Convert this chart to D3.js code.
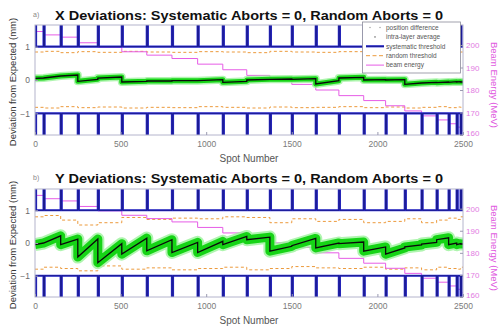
<!DOCTYPE html>
<html><head><meta charset="utf-8">
<script src="https://d3js.org/d3.v7.min.js"></script>
<style>
html,body{margin:0;padding:0;background:#fff;}
svg{display:block;font-family:"Liberation Sans",Arial,sans-serif;}
</style></head>
<body><svg id="c" width="499" height="332"></svg>
<script>
// ---------------- data ----------------
const layerStart = [0, 50, 150, 250, 367, 507, 653, 800, 950, 1097, 1237, 1372, 1500, 1640, 1775, 1920, 2048, 2160, 2258, 2346, 2416, 2463, 2486];
const spotEnd = 2500;
const beamEnergy = [206, 204.5, 203.5, 201, 199, 197, 195.5, 194, 191.5, 189, 186.5, 184.5, 182.5, 180, 177.5, 175.3, 173, 170.7, 168.5, 166.7, 165, 163.5, 162];

// intra-layer average at layer start / layer end (mm)
const xAvgStart = [0.05, 0.06, 0.12, -0.04, 0.06, -0.06, -0.03, -0.02, -0.02, -0.07, 0.00, 0.02, 0.02, -0.12, 0.06, 0.00, 0.00, -0.13, -0.09, -0.08, -0.07, -0.06, -0.06];
const xAvgEnd   = [0.06, 0.12, 0.15, 0.02, 0.09, -0.04, -0.03, -0.02, 0.01, -0.04, 0.02, 0.03, 0.04, -0.02, 0.08, 0.01, 0.01, -0.09, -0.07, -0.06, -0.05, -0.05, -0.06];
const yAvgStart = [-0.05, 0.00, -0.05, -0.43, -0.60, -0.34, -0.24, -0.29, -0.29, -0.05, 0.10, -0.25, -0.08, -0.15, -0.02, -0.25, -0.34, -0.12, -0.03, 0.10, -0.05, -0.05, -0.03];
const yAvgEnd   = [0.00, 0.22, 0.12, 0.12, -0.02, 0.15, 0.10, 0.02, 0.05, 0.20, 0.18, -0.10, 0.14, 0.00, 0.03, -0.12, -0.15, -0.06, 0.02, 0.16, 0.00, -0.02, -0.03];

// random thresholds per layer (mm)
const xRandUpper = [0.84, 0.86, 0.82, 0.85, 0.83, 0.86, 0.84, 0.83, 0.85, 0.84, 0.82, 0.86, 0.84, 0.83, 0.85, 0.82, 0.84, 0.86, 0.83, 0.84, 0.85, 0.83, 0.84];
const xRandLower = [-0.82, -0.84, -0.80, -0.83, -0.81, -0.84, -0.82, -0.83, -0.80, -0.82, -0.84, -0.81, -0.83, -0.82, -0.80, -0.83, -0.81, -0.84, -0.82, -0.80, -0.83, -0.81, -0.82];
const yRandUpper = [0.80, 0.84, 0.70, 0.55, 0.62, 0.78, 0.72, 0.76, 0.74, 0.80, 0.78, 0.62, 0.74, 0.66, 0.72, 0.62, 0.66, 0.74, 0.62, 0.70, 0.76, 0.72, 0.80];
const yRandLower = [-0.80, -0.74, -0.78, -0.85, -0.70, -0.80, -0.76, -0.82, -0.78, -0.74, -0.82, -0.78, -0.72, -0.76, -0.78, -0.74, -0.80, -0.76, -0.82, -0.74, -0.78, -0.80, -0.74];

const sysThreshold = 1;       // mm
const sysSpikeValue = 3;      // loose threshold at start of each layer (off-scale)
const sysSpikeSpots = 6;      // spots with loose threshold at layer start

const xTicks = [0, 500, 1000, 1500, 2000, 2500];
const leftTicks = [-1, 0, 1];
const rightTicks = [160, 170, 180, 190, 200];
const legendLabels = ["position difference", "intra-layer average", "systematic threshold", "random threshold", "beam energy"];
const panelTitles = ["X Deviations: Systematic Aborts = 0, Random Aborts = 0", "Y Deviations: Systematic Aborts = 0, Random Aborts = 0"];
const panelTags = ["a)", "b)"];

// ---------------- drawing ----------------
const svg = d3.select("#c");
const L = 35, R = 463;
const x = d3.scaleLinear([0, spotEnd], [L, R]);

const panels = [
  {top: 25, bottom: 135, avgS: xAvgStart, avgE: xAvgEnd, rU: xRandUpper, rL: xRandLower, band: 5, halo: 3, titleY: 20, legend: true},
  {top: 189, bottom: 297, avgS: yAvgStart, avgE: yAvgEnd, rU: yRandUpper, rL: yRandLower, band: 9, halo: 4, titleY: 183, legend: false}
];

function layerEnd(i){ return i + 1 < layerStart.length ? layerStart[i + 1] : spotEnd; }

panels.forEach((p, pi) => {
  const y = d3.scaleLinear([-1.65, 1.65], [p.bottom, p.top]);
  const yR = d3.scaleLinear([160, 208.9], [p.bottom, p.top]);
  const g = svg.append("g");
  const clipId = "clip" + pi;
  svg.append("clipPath").attr("id", clipId).append("rect")
    .attr("x", L).attr("y", p.top).attr("width", R - L).attr("height", p.bottom - p.top);
  const plot = g.append("g").attr("clip-path", `url(#${clipId})`);

  // random thresholds (dashed)
  const stepPts = arr => { const pts = layerStart.map((s, i) => [s, arr[i]]); pts.push([spotEnd, arr[arr.length - 1]]); return pts; };
  const lineStep = d3.line().x(d => x(d[0])).y(d => y(d[1])).curve(d3.curveStepAfter);
  [p.rU, p.rL].forEach(arr => {
    plot.append("path").attr("d", lineStep(stepPts(arr))).attr("fill", "none")
      .attr("stroke", "#ec9a3c").attr("stroke-width", 1).attr("stroke-dasharray", "3,2.5");
  });

  // beam energy (magenta step)
  const ePts = layerStart.map((s, i) => [s, beamEnergy[i]]); ePts.push([spotEnd, beamEnergy[beamEnergy.length - 1]]);
  plot.append("path").attr("d", d3.line().x(d => x(d[0])).y(d => yR(d[1])).curve(d3.curveStepAfter)(ePts))
    .attr("fill", "none").attr("stroke", "#e65ce6").attr("stroke-width", 1);

  // systematic threshold with spikes at each layer start
  [1, -1].forEach(sgn => {
    const pts = [];
    layerStart.forEach((s, i) => {
      pts.push([s, sgn * sysSpikeValue]);
      pts.push([Math.min(s + sysSpikeSpots, layerEnd(i)), sgn * sysThreshold]);
    });
    pts.push([spotEnd, sgn * sysThreshold]);
    plot.append("path").attr("d", lineStep(pts)).attr("fill", "none")
      .attr("stroke", "#2d2dd6").attr("stroke-width", 2.2);
    plot.append("path").attr("d", lineStep(pts)).attr("fill", "none")
      .attr("stroke", "#15157a").attr("stroke-width", 0.8);
  });

  // position difference band + intra-layer average
  const aPts = [];
  layerStart.forEach((s, i) => { aPts.push([s, p.avgS[i]]); aPts.push([layerEnd(i), p.avgE[i]]); });
  const lineA = d3.line().x(d => x(d[0])).y(d => y(d[1]));
  plot.append("path").attr("d", lineA(aPts)).attr("fill", "none")
    .attr("stroke", "#9bf29b").attr("stroke-width", p.band + p.halo).attr("stroke-linejoin", "round").attr("opacity", 0.8);
  plot.append("path").attr("d", lineA(aPts)).attr("fill", "none")
    .attr("stroke", "#16d416").attr("stroke-width", p.band).attr("stroke-linejoin", "round");
  plot.append("path").attr("d", lineA(aPts)).attr("fill", "none")
    .attr("stroke", "#0a0a0a").attr("stroke-width", 1.3);

  // axes box
  g.append("rect").attr("x", L).attr("y", p.top).attr("width", R - L).attr("height", p.bottom - p.top)
    .attr("fill", "none").attr("stroke", "#b4b4cc").attr("stroke-width", 1);

  const styleAxis = (sel, col, fs) => {
    sel.select(".domain").remove();
    sel.selectAll(".tick line").attr("stroke", "#9a9ab0");
    sel.selectAll(".tick text").attr("fill", col).style("font-size", fs).attr("font-family", "Liberation Sans, Arial, sans-serif");
  };
  g.append("g").attr("transform", `translate(0,${p.bottom})`)
    .call(d3.axisBottom(x).tickValues(xTicks).tickSizeInner(-3).tickSizeOuter(0).tickPadding(6).tickFormat(d3.format("d")))
    .call(s => styleAxis(s, "#7a7a7a", "8.5px"));
  g.append("g").attr("transform", `translate(${L},0)`)
    .call(d3.axisLeft(y).tickValues(leftTicks).tickSizeInner(-3).tickSizeOuter(0).tickPadding(5).tickFormat(d3.format("d")))
    .call(s => styleAxis(s, "#6a6a6a", "8.5px"));
  g.append("g").attr("transform", `translate(${R},0)`)
    .call(d3.axisRight(yR).tickValues(rightTicks).tickSizeInner(-3).tickSizeOuter(0).tickPadding(3).tickFormat(d3.format("d")))
    .call(s => styleAxis(s, "#e27be2", "8px"))
    .call(s => s.selectAll(".tick text").attr("dy", d => d === 160 ? "0.1em" : "0.32em"));

  // titles and labels
  g.append("text").attr("x", 33).attr("y", p.titleY - 3).text(panelTags[pi])
    .attr("fill", "#888").style("font-size", "7px");
  g.append("text").attr("x", 55).attr("y", p.titleY).text(panelTitles[pi])
    .attr("fill", "#111").style("font-size", "13px").style("font-weight", "bold")
    .attr("textLength", 388).attr("lengthAdjust", "spacingAndGlyphs");
  g.append("text").attr("x", (L + R) / 2).attr("y", p.bottom + 27).attr("text-anchor", "middle")
    .text("Spot Number").attr("fill", "#555").style("font-size", "10px");
  const midY = (p.top + p.bottom) / 2;
  g.append("text").attr("transform", `translate(16,${midY + 2}) rotate(-90)`).attr("text-anchor", "middle")
    .text("Deviation from Expected (mm)").attr("fill", "#333").style("font-size", "9.5px");
  g.append("text").attr("transform", `translate(491,${midY + 5}) rotate(90)`).attr("text-anchor", "middle")
    .text("Beam Energy (MeV)").attr("fill", "#e05ae0").style("font-size", "9.5px");

  if (p.legend) {
    const lg = g.append("g");
    lg.append("rect").attr("x", 362.5).attr("y", 22).attr("width", 98).attr("height", 51)
      .attr("fill", "#fff").attr("stroke", "#8a8a9a").attr("stroke-width", 0.8);
    const ys = legendLabels.map((_, i) => 27.5 + i * 9.4);
    legendLabels.forEach((lab, i) => {
      const yy = ys[i];
      if (i === 0) {
        [370, 380].forEach(cx => lg.append("circle").attr("cx", cx).attr("cy", yy).attr("r", 0.7).attr("fill", "#999"));
      } else if (i === 1) {
        lg.append("circle").attr("cx", 375).attr("cy", yy).attr("r", 0.7).attr("fill", "#333");
      } else if (i === 2) {
        lg.append("line").attr("x1", 366).attr("x2", 384).attr("y1", yy).attr("y2", yy).attr("stroke", "#2d2dd6").attr("stroke-width", 2.2);
        lg.append("line").attr("x1", 366).attr("x2", 384).attr("y1", yy).attr("y2", yy).attr("stroke", "#15157a").attr("stroke-width", 0.8);
      } else if (i === 3) {
        lg.append("line").attr("x1", 366).attr("x2", 384).attr("y1", yy).attr("y2", yy).attr("stroke", "#ec9a3c").attr("stroke-width", 1).attr("stroke-dasharray", "4,2.5");
      } else {
        lg.append("line").attr("x1", 366).attr("x2", 384).attr("y1", yy).attr("y2", yy).attr("stroke", "#e65ce6").attr("stroke-width", 1);
      }
      lg.append("text").attr("x", 386).attr("y", yy + 2.2).text(lab).attr("fill", "#555").style("font-size", "6.5px");
    });
  }
});
</script>
</body></html>
